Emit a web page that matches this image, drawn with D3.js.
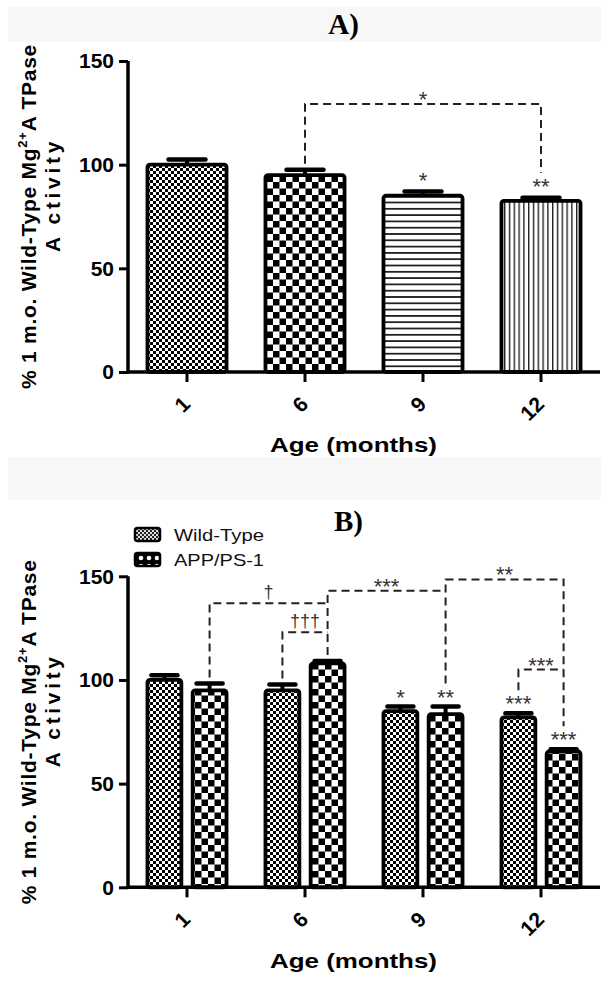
<!DOCTYPE html>
<html><head><meta charset="utf-8">
<script src="https://cdn.jsdelivr.net/npm/d3@7"></script>
<style>body{margin:0;background:#fff}</style>
</head><body>
<svg id="c" width="611" height="990" xmlns="http://www.w3.org/2000/svg"></svg>
<script>
// ---------- data ----------
const categories = ["1", "6", "9", "12"];
const yTickValues = [0, 50, 100, 150];

const valuesA = [100, 95, 85, 82.5];
const errorsA = [2.5, 2.5, 2, 1.5];
const starsA = ["", "", "*", "**"];

const seriesB = ["Wild-Type", "APP/PS-1"];
const wildTypeB = [100, 95, 85, 82];
const wildTypeErrB = [2.3, 2.8, 2.2, 2];
const starsWildTypeB = ["", "", "*", "***"];
const appB = [95, 108, 83.5, 65.5];
const appErrB = [3.3, 1.2, 3.7, 1.1];
const starsAppB = ["", "", "**", "***"];

const bracketsA = [
  {from: ["6", 0], to: ["12", 0], level: 129.3, label: "*", legs: [true, true]}
];
const bracketsB = [
  {from: ["1", 1], to: ["6", 1], level: 137, label: "†", legs: [true, false]},
  {from: ["6", 0], to: ["6", 1], level: 123, label: "†††", legs: [true, false]},
  {from: ["6", 1], to: ["9", 1], level: 143, label: "***", legs: [true, false]},
  {from: ["9", 1], to: ["12", 1], level: 148.5, label: "**", legs: [true, true]},
  {from: ["12", 0], to: ["12", 1], level: 105, label: "***", legs: [true, false]}
];

// ---------- setup ----------
const svg = d3.select("#c");
const defs = svg.append("defs");

function checker(id, s, bg, fg) {
  const p = defs.append("pattern").attr("id", id).attr("patternUnits", "userSpaceOnUse")
    .attr("width", 2 * s).attr("height", 2 * s);
  p.append("rect").attr("width", 2 * s).attr("height", 2 * s).attr("fill", bg);
  p.append("rect").attr("width", s).attr("height", s).attr("fill", fg);
  p.append("rect").attr("x", s).attr("y", s).attr("width", s).attr("height", s).attr("fill", fg);
}
checker("fine", 3, "#fff", "#000");
checker("coarse", 6.5, "#fff", "#000");
checker("legfine", 2, "#ddd", "#222");
{
  const p = defs.append("pattern").attr("id", "hlines").attr("patternUnits", "userSpaceOnUse")
    .attr("width", 10).attr("height", 6.3);
  p.append("rect").attr("width", 10).attr("height", 6.3).attr("fill", "#fff");
  p.append("rect").attr("width", 10).attr("height", 1.8).attr("fill", "#222");
  const q = defs.append("pattern").attr("id", "vlines").attr("patternUnits", "userSpaceOnUse")
    .attr("width", 4.8).attr("height", 10);
  q.append("rect").attr("width", 4.8).attr("height", 10).attr("fill", "#fff");
  q.append("rect").attr("width", 1.4).attr("height", 10).attr("fill", "#222");
  const c = defs.append("pattern").attr("id", "legcoarse").attr("patternUnits", "userSpaceOnUse")
    .attr("width", 8).attr("height", 8).attr("x", 1).attr("y", 2);
  c.append("rect").attr("width", 8).attr("height", 8).attr("fill", "#000");
  c.append("circle").attr("cx", 4).attr("cy", 4).attr("r", 2.3).attr("fill", "#fff");
}

// faint scan background bands
svg.append("rect").attr("x", 8).attr("y", 7).attr("width", 593).attr("height", 35).attr("fill", "#f7f7f7");
svg.append("rect").attr("x", 8).attr("y", 457).attr("width", 593).attr("height", 43).attr("fill", "#f8f8f8");

const SANS = "'Liberation Sans', Arial, sans-serif";

function starText(g, x, cy, label) {
  const dag = label.indexOf("†") >= 0;
  g.append("text").attr("x", x).attr("y", dag ? cy + 6 : cy + 12)
    .attr("text-anchor", "middle")
    .style("font-family", SANS).style("font-size", dag ? "18px" : "22px")
    .attr("fill", "#333").text(label);
}

function drawPanel(cfg) {
  const g = svg.append("g");
  const y = d3.scaleLinear().domain([0, 150]).range([cfg.y0, cfg.y150]);
  const x = d3.scaleBand().domain(categories).range([128, 600]).paddingInner(0.33).paddingOuter(0.165);
  const x1 = d3.scaleBand().domain(d3.range(cfg.series.length)).range([0, x.bandwidth()])
    .paddingInner(cfg.series.length > 1 ? 0.25 : 0);

  // title
  g.append("text").attr("x", cfg.titleX).attr("y", cfg.titleY).attr("text-anchor", "middle")
    .style("font-family", "'Liberation Serif', 'Times New Roman', serif").style("font-weight", "bold")
    .style("font-size", "29px").text(cfg.title);

  // bar data
  const bars = [];
  cfg.series.forEach((s, si) => {
    categories.forEach((c, ci) => {
      bars.push({cat: c, si, v: s.values[ci], e: s.errors[ci], star: s.stars[ci], pat: s.patterns[ci]});
    });
  });
  const bx = d => x(d.cat) + x1(d.si);
  const bw = x1.bandwidth();
  const capW = cfg.series.length > 1 ? 30 : 41;

  // error bars
  const eg = g.append("g");
  bars.forEach(d => {
    const cx = bx(d) + bw / 2;
    eg.append("line").attr("x1", cx).attr("x2", cx).attr("y1", y(d.v)).attr("y2", y(d.v + d.e))
      .attr("stroke", "#000").attr("stroke-width", 4);
    eg.append("line").attr("x1", cx - capW / 2 + 2).attr("x2", cx + capW / 2 - 2)
      .attr("y1", y(d.v + d.e)).attr("y2", y(d.v + d.e))
      .attr("stroke", "#000").attr("stroke-width", 4.5).attr("stroke-linecap", "round");
  });
  // bars
  g.append("g").selectAll("rect").data(bars).join("rect")
    .attr("x", d => bx(d)).attr("y", d => y(d.v))
    .attr("width", bw).attr("height", d => y(0) - y(d.v))
    .attr("rx", 2.5)
    .attr("fill", d => `url(#${d.pat})`).attr("stroke", "#000").attr("stroke-width", 3.8);

  // axes
  const ya = g.append("g").attr("transform", `translate(128,0)`)
    .call(d3.axisLeft(y).tickValues(yTickValues).tickSize(9).tickPadding(5).tickFormat(d3.format("d")));
  const xa = g.append("g").attr("transform", `translate(0,${y(0)})`)
    .call(d3.axisBottom(x).tickSize(10).tickFormat(""));
  [ya, xa].forEach(a => {
    a.select(".domain").attr("stroke", "#000").attr("stroke-width", 3.5);
    a.selectAll(".tick line").attr("stroke", "#000").attr("stroke-width", 3);
  });
  ya.select(".domain").attr("d", `M0,${y(150)}V${y(0) + 1.5}`);
  xa.select(".domain").attr("d", `M128,0H600`);
  ya.selectAll(".tick text").style("font-family", SANS).style("font-weight", "bold")
    .style("font-size", "21px").attr("fill", "#000");
  // rotated category labels
  categories.forEach(c => {
    const tx = x(c) + x.bandwidth() / 2 + 4.5, ty = y(0) + 33.5;
    g.append("text").attr("transform", `translate(${tx},${ty}) rotate(-45)`)
      .attr("text-anchor", "end").style("font-family", SANS).style("font-weight", "bold")
      .style("font-size", "21px").text(c);
  });

  // x title
  g.append("text").attr("x", 353.5).attr("y", cfg.xTitleY).attr("text-anchor", "middle")
    .attr("textLength", 167).attr("lengthAdjust", "spacingAndGlyphs")
    .style("font-family", SANS).style("font-weight", "bold").style("font-size", "21px")
    .text("Age (months)");

  // y title (two lines)
  const mid = (y(0) + y(150)) / 2;
  const l1 = g.append("text").attr("transform", `translate(36,${mid}) rotate(-90)`)
    .attr("text-anchor", "middle").style("font-family", SANS).style("font-weight", "bold")
    .style("font-size", "21px");
  l1.append("tspan").text("% 1 m.o. Wild-Type Mg");
  l1.append("tspan").attr("dy", -9).style("font-size", "13px").text("2+");
  l1.append("tspan").attr("dy", 9).text("A TPase");
  const l2 = g.append("text").attr("transform", `translate(60,${mid - 21.5}) rotate(-90)`)
    .attr("text-anchor", "middle").style("font-family", SANS).style("font-weight", "bold")
    .style("font-size", "21px").text("A ctivity");
  function fit(t, L) {
    const w = t.node().getComputedTextLength();
    const n = t.text().length;
    t.style("letter-spacing", ((L - w) / n) + "px");
  }
  fit(l1, 345); fit(l2, 114);

  // stars above bars
  const labelCenter = {};
  bars.forEach(d => {
    const cx = bx(d) + bw / 2;
    const cy = y(d.v + d.e) - cfg.starGap;
    if (d.star) { starText(g, cx, cy, d.star); labelCenter[d.cat + "_" + d.si] = cy; }
  });
  const legEnd = (cat, si) => {
    const d = bars.find(b => b.cat === cat && b.si === si);
    const k = cat + "_" + si;
    return labelCenter[k] !== undefined ? labelCenter[k] - 9 : y(d.v + d.e) - 6;
  };
  const cxOf = (cat, si) => x(cat) + x1(si) + bw / 2;

  // significance brackets
  cfg.brackets.forEach(b => {
    const xa1 = cxOf(b.from[0], b.from[1]), xa2 = cxOf(b.to[0], b.to[1]);
    const yl = y(b.level);
    const path = d3.path();
    if (b.legs[0]) { path.moveTo(xa1, legEnd(b.from[0], b.from[1])); path.lineTo(xa1, yl); }
    else path.moveTo(xa1, yl);
    path.lineTo(xa2, yl);
    if (b.legs[1]) path.lineTo(xa2, legEnd(b.to[0], b.to[1]));
    g.append("path").attr("d", path.toString()).attr("fill", "none").attr("stroke", "#222")
      .attr("stroke-width", 2).attr("stroke-dasharray", "8,5");
    const dag = b.label.indexOf("†") >= 0;
    starText(g, (xa1 + xa2) / 2, yl - (dag ? 11 : 9), b.label);
  });
  return g;
}

drawPanel({
  title: "A)", titleX: 343.5, titleY: 34,
  y0: 372, y150: 61, xTitleY: 452, starGap: 16,
  series: [{values: valuesA, errors: errorsA, stars: starsA, patterns: ["fine", "coarse", "hlines", "vlines"]}],
  brackets: bracketsA
});
drawPanel({
  title: "B)", titleX: 348.5, titleY: 531,
  y0: 887.3, y150: 576.3, xTitleY: 968, starGap: 14,
  series: [
    {values: wildTypeB, errors: wildTypeErrB, stars: starsWildTypeB, patterns: ["fine", "fine", "fine", "fine"]},
    {values: appB, errors: appErrB, stars: starsAppB, patterns: ["coarse", "coarse", "coarse", "coarse"]}
  ],
  brackets: bracketsB
});

// legend for B
const leg = svg.append("g");
seriesB.forEach((name, i) => {
  const yy = 528 + i * 25;
  leg.append("rect").attr("x", 135).attr("y", yy).attr("width", 25).attr("height", 13).attr("rx", 2.5)
    .attr("fill", i === 0 ? "url(#legfine)" : "url(#legcoarse)").attr("stroke", "#000").attr("stroke-width", 2.5);
  leg.append("text").attr("x", 174).attr("y", yy + 13).attr("textLength", 90).attr("lengthAdjust", "spacingAndGlyphs")
    .style("font-family", SANS).style("font-size", "17px").attr("fill", "#111").text(name);
});
</script>
</body></html>
